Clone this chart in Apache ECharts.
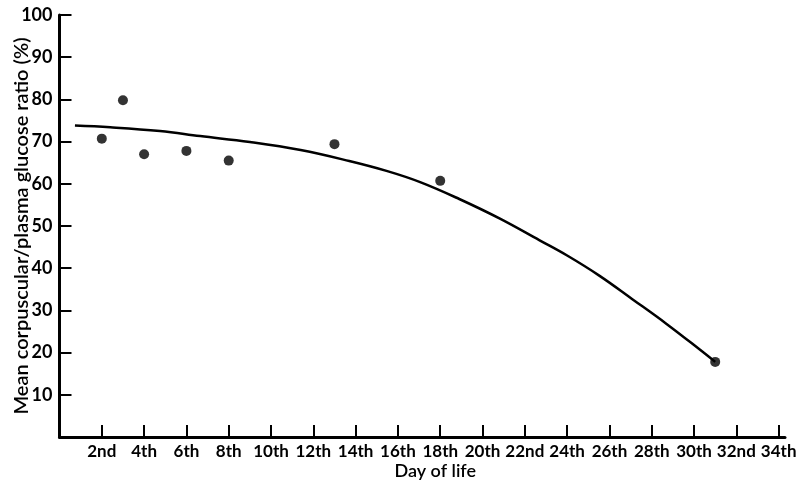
<!DOCTYPE html>
<html>
<head>
<meta charset="utf-8">
<script src="https://cdn.jsdelivr.net/npm/echarts@6/dist/echarts.min.js"></script>
<style>html,body{margin:0;padding:0;background:#fff}#c{width:804px;height:480px}</style>
</head>
<body>
<div id="c"></div>
<script>
// Observed data points (day of life, ratio %)
var pointDays = [2, 3, 4, 6, 8, 13, 18, 31];
var pointValues = [70.7, 79.8, 67.0, 67.8, 65.5, 69.4, 60.7, 17.8];
// Fitted curve
var curveDays = [0.73, 2.4, 4.75, 6.65, 9.0, 11.4, 13.7, 15.5, 17.05, 18.9, 20.8, 22.7, 24.0, 25.5, 27.1, 28.7, 30.3, 31.0];
var curveValues = [73.8, 73.4, 72.5, 71.3, 69.9, 68.0, 65.4, 63.0, 60.4, 56.4, 51.8, 46.6, 43.0, 38.3, 32.6, 26.8, 20.6, 17.8];
// X tick labels
var xTickDays = [2, 4, 6, 8, 10, 12, 14, 16, 18, 20, 22, 24, 26, 28, 30, 32, 34];
var xTickLabels = ['2nd','4th','6th','8th','10th','12th','14th','16th','18th','20th','22nd','24th','26th','28th','30th','32nd','34th'];
var yTickValues = [10, 20, 30, 40, 50, 60, 70, 80, 90, 100];

var FONT = 'Lato';
var chart = echarts.init(document.getElementById('c'), null, {renderer: 'canvas'});
chart.setOption({
  animation: false,
  backgroundColor: '#fff',
  grid: {left: 59.5, right: 19, top: 15, bottom: 43, containLabel: false, outerBoundsMode: 'none'},
  xAxis: {
    type: 'value', min: 0, max: 34.3,
    name: 'Day of life', nameLocation: 'middle', nameGap: 25, nameMoveOverlap: false,
    nameTextStyle: {fontFamily: FONT, fontSize: 18, fontWeight: 600, color: '#000', padding: [0, 0, 0, 26]},
    axisLine: {show: true, lineStyle: {color: '#000', width: 3}},
    axisTick: {show: true, inside: true, length: 12, customValues: xTickDays, lineStyle: {color: '#000', width: 2}},
    axisLabel: {
      customValues: xTickDays, margin: 6, fontFamily: FONT, fontSize: 17, fontWeight: 'bold', color: '#000',
      formatter: function (v) { var i = xTickDays.indexOf(Math.round(v)); return i >= 0 ? xTickLabels[i] : ''; }
    },
    splitLine: {show: false}
  },
  yAxis: {
    type: 'value', min: 0, max: 100,
    name: 'Mean corpuscular/plasma glucose ratio (%)', nameLocation: 'middle', nameGap: 28, nameMoveOverlap: false,
    nameTextStyle: {fontFamily: FONT, fontSize: 20, fontWeight: 600, color: '#000'},
    axisLine: {show: true, lineStyle: {color: '#000', width: 3}},
    axisTick: {show: true, inside: true, length: 12, customValues: yTickValues, lineStyle: {color: '#000', width: 2}},
    axisLabel: {customValues: yTickValues, margin: 7, fontFamily: FONT, fontSize: 18, fontWeight: 'bold', color: '#000'},
    splitLine: {show: false}
  },
  series: [
    {
      type: 'line', smooth: 0.4, showSymbol: false, symbol: 'none',
      data: curveDays.map(function (d, i) { return [d, curveValues[i]]; }),
      lineStyle: {color: '#000', width: 2.5}
    },
    {
      type: 'scatter', symbol: 'circle', symbolSize: 10,
      data: pointDays.map(function (d, i) { return [d, pointValues[i]]; }),
      itemStyle: {color: '#000'}
    }
  ]
});
</script>
</body>
</html>
